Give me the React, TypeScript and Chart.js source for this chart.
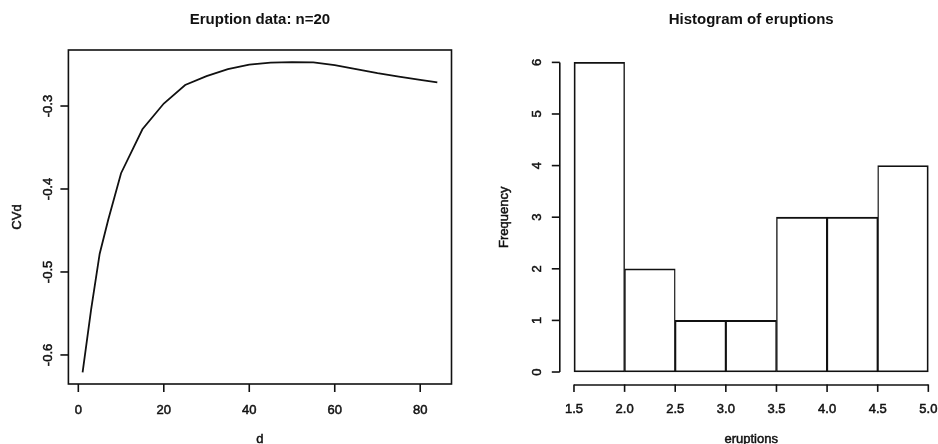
import { useEffect, useRef } from "react";
import { Chart, registerables } from "chart.js";

Chart.register(...registerables);

// ---------- Left panel: CVd vs d ----------
const dValues = [1, 3, 5, 7, 10, 15, 20, 25, 30, 35, 40, 45, 50, 55, 60, 65, 70, 75, 80, 84];
const cvdValues = [
  -0.621, -0.545, -0.478, -0.437, -0.381, -0.328, -0.297, -0.2747, -0.2639, -0.2555,
  -0.2502, -0.2478, -0.2472, -0.2474, -0.2506, -0.2555, -0.2603, -0.2645, -0.2685, -0.2715,
];
const dTicks = [0, 20, 40, 60, 80];
const dTickLabels = ["0", "20", "40", "60", "80"];
const cvdTicks = [-0.6, -0.5, -0.4, -0.3];
const cvdTickLabels = ["-0.6", "-0.5", "-0.4", "-0.3"];
const leftTitle = "Eruption data: n=20";
const leftXLabel = "d";
const leftYLabel = "CVd";

// ---------- Right panel: histogram ----------
const binEdges = [1.5, 2.0, 2.5, 3.0, 3.5, 4.0, 4.5, 5.0];
const frequencies = [6, 2, 1, 1, 3, 3, 4];
const eruptionTicks = [1.5, 2.0, 2.5, 3.0, 3.5, 4.0, 4.5, 5.0];
const eruptionTickLabels = ["1.5", "2.0", "2.5", "3.0", "3.5", "4.0", "4.5", "5.0"];
const freqTicks = [0, 1, 2, 3, 4, 5, 6];
const freqTickLabels = ["0", "1", "2", "3", "4", "5", "6"];
const rightTitle = "Histogram of eruptions";
const rightXLabel = "eruptions";
const rightYLabel = "Frequency";

const FAMILY = '"Liberation Sans", Arial, Helvetica, sans-serif';
const TICK_FONT = `13px ${FAMILY}`;
const TITLE_FONT = `bold 15px ${FAMILY}`;
const INK = "#111";

function seg(ctx: CanvasRenderingContext2D, x1: number, y1: number, x2: number, y2: number) {
  ctx.beginPath();
  ctx.moveTo(x1, y1);
  ctx.lineTo(x2, y2);
  ctx.stroke();
}

function txt(ctx: CanvasRenderingContext2D, text: string, x: number, y: number) {
  ctx.fillText(text, x, y);
  ctx.save();
  ctx.lineWidth = 0.5;
  ctx.strokeText(text, x, y);
  ctx.restore();
}

function vText(ctx: CanvasRenderingContext2D, text: string, x: number, y: number) {
  ctx.save();
  ctx.translate(x, y);
  ctx.rotate(-Math.PI / 2);
  ctx.textAlign = "center";
  ctx.textBaseline = "alphabetic";
  txt(ctx, text, 0, 0);
  ctx.restore();
}

const leftAxesPlugin = {
  id: "leftAxes",
  afterDraw(chart: any) {
    const { ctx, chartArea: a, scales } = chart;
    const x = scales.x;
    const y = scales.y;
    ctx.save();
    ctx.strokeStyle = INK;
    ctx.fillStyle = INK;
    ctx.lineWidth = 1.6;
    ctx.strokeRect(a.left, a.top, a.right - a.left, a.bottom - a.top);
    ctx.font = TICK_FONT;
    ctx.textAlign = "center";
    ctx.textBaseline = "alphabetic";
    dTicks.forEach((t, i) => {
      const px = x.getPixelForValue(t);
      seg(ctx, px, a.bottom, px, a.bottom + 8);
      txt(ctx, dTickLabels[i], px, a.bottom + 30);
    });
    cvdTicks.forEach((t, i) => {
      const py = y.getPixelForValue(t);
      seg(ctx, a.left - 8, py, a.left, py);
      vText(ctx, cvdTickLabels[i], a.left - 16, py);
    });
    const cx = (a.left + a.right) / 2;
    const cy = (a.top + a.bottom) / 2;
    txt(ctx, leftXLabel, cx, a.bottom + 58.5);
    vText(ctx, leftYLabel, a.left - 47, cy);
    ctx.font = TITLE_FONT;
    ctx.textAlign = "center";
    ctx.fillText(leftTitle, cx, a.top - 26);
    ctx.restore();
  },
};

const rightAxesPlugin = {
  id: "rightAxes",
  afterDraw(chart: any) {
    const { ctx, chartArea: a, scales } = chart;
    const x = scales.x;
    const y = scales.y;
    ctx.save();
    ctx.strokeStyle = INK;
    ctx.fillStyle = INK;
    ctx.lineWidth = 1.6;
    // y axis
    const y0 = y.getPixelForValue(freqTicks[0]);
    const y1 = y.getPixelForValue(freqTicks[freqTicks.length - 1]);
    seg(ctx, a.left, y0, a.left, y1);
    ctx.font = TICK_FONT;
    freqTicks.forEach((t, i) => {
      const py = y.getPixelForValue(t);
      seg(ctx, a.left - 8, py, a.left, py);
      vText(ctx, freqTickLabels[i], a.left - 19, py);
    });
    // x axis
    const x0 = x.getPixelForValue(eruptionTicks[0]);
    const x1 = x.getPixelForValue(eruptionTicks[eruptionTicks.length - 1]);
    seg(ctx, x0, a.bottom + 0.6, x1, a.bottom + 0.6);
    ctx.textAlign = "center";
    ctx.textBaseline = "alphabetic";
    eruptionTicks.forEach((t, i) => {
      const px = x.getPixelForValue(t);
      seg(ctx, px, a.bottom, px, a.bottom + 7.5);
      txt(ctx, eruptionTickLabels[i], px, a.bottom + 29);
    });
    const cx = (a.left + a.right) / 2;
    const cy = (a.top + a.bottom) / 2;
    txt(ctx, rightXLabel, cx, a.bottom + 58.5);
    vText(ctx, rightYLabel, a.left - 51.5, cy);
    ctx.font = TITLE_FONT;
    ctx.textAlign = "center";
    ctx.fillText(rightTitle, cx, a.top - 26);
    ctx.restore();
  },
};

export default function App() {
  const leftRef = useRef<HTMLCanvasElement>(null);
  const rightRef = useRef<HTMLCanvasElement>(null);

  useEffect(() => {
    const left = new Chart(leftRef.current as HTMLCanvasElement, {
      type: "line",
      data: {
        datasets: [
          {
            data: dValues.map((d, i) => ({ x: d, y: cvdValues[i] })),
            borderColor: INK,
            borderWidth: 1.8,
            pointRadius: 0,
            tension: 0,
            fill: false,
          },
        ],
      },
      options: {
        responsive: false,
        animation: false,
        events: [],
        layout: { padding: { left: 68.4, right: 17.5, top: 50, bottom: 60 } },
        plugins: { legend: { display: false }, tooltip: { enabled: false }, title: { display: false } },
        scales: {
          x: { type: "linear", display: false, min: -2.32, max: 87.32 },
          y: { type: "linear", display: false, min: -0.635, max: -0.2325 },
        },
      },
      plugins: [leftAxesPlugin],
    } as any);

    const lastBar = frequencies.length - 1;
    const right = new Chart(rightRef.current as HTMLCanvasElement, {
      type: "bar",
      data: {
        datasets: [
          {
            data: frequencies.map((f, i) => ({ x: (binEdges[i] + binEdges[i + 1]) / 2, y: f })),
            backgroundColor: "#ffffff",
            borderColor: INK,
            borderWidth: (c: any) => ({
              top: 1.8,
              bottom: 1.8,
              left: c.dataIndex === 0 ? 1.8 : 1.4,
              right: c.dataIndex === lastBar ? 1.8 : 1.4,
            }),
            borderSkipped: false,
            barPercentage: 1,
            categoryPercentage: 1,
          },
        ],
      },
      options: {
        responsive: false,
        animation: false,
        events: [],
        layout: { padding: { left: 90.8, right: 6.5, top: 50, bottom: 59.6 } },
        plugins: { legend: { display: false }, tooltip: { enabled: false }, title: { display: false } },
        scales: {
          x: {
            type: "linear",
            display: false,
            offset: false,
            min: 1.36,
            max: 5.14,
            afterBuildTicks: (s: any) => {
              s.ticks = eruptionTicks.map((v) => ({ value: v }));
            },
          },
          y: {
            type: "linear",
            display: false,
            min: -0.24,
            max: 6.24,
            afterBuildTicks: (s: any) => {
              s.ticks = freqTicks.map((v) => ({ value: v }));
            },
          },
        },
      },
      plugins: [rightAxesPlugin],
    } as any);

    return () => {
      left.destroy();
      right.destroy();
    };
  }, []);

  return (
    <div
      style={{
        position: "fixed",
        left: 0,
        top: 0,
        width: 938,
        height: 444,
        overflow: "hidden",
        background: "#fff",
      }}
    >
      <canvas ref={leftRef} width={469} height={444} style={{ position: "absolute", left: 0, top: 0 }} />
      <canvas ref={rightRef} width={480} height={444} style={{ position: "absolute", left: 469, top: 0 }} />
    </div>
  );
}
